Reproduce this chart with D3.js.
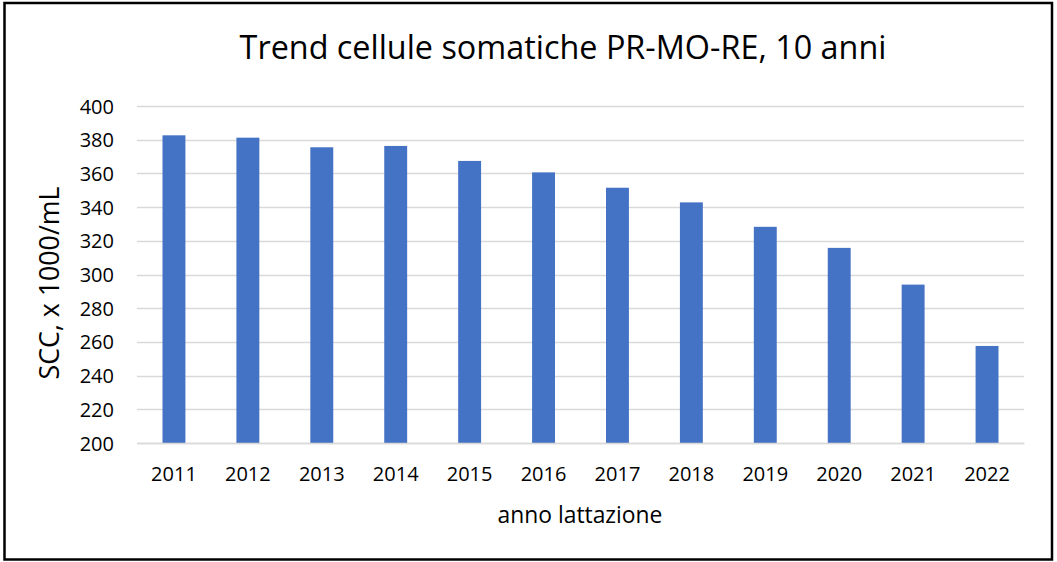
<!DOCTYPE html>
<html>
<head>
<meta charset="utf-8">
<script src="https://cdn.jsdelivr.net/npm/d3@7"></script>
<style>
  body { margin: 0; background: #fff; }
  text { font-family: "Open Sans", "Noto Sans", sans-serif; fill: #000; }
</style>
</head>
<body>
<div id="chart"></div>
<script>

var years = ["2011", "2012", "2013", "2014", "2015", "2016",
  "2017", "2018", "2019", "2020", "2021", "2022"];
var scc = [382.6, 381.2, 375.5, 376.3, 367.4, 360.6,
  351.5, 342.8, 328.3, 315.8, 294.0, 257.6];
var yTicks = [200, 220, 240, 260, 280, 300, 320, 340, 360, 380, 400];

var titleText = "Trend cellule somatiche PR-MO-RE, 10 anni";
var xTitle = "anno lattazione";
var yTitle = "SCC, x 1000/mL";

var width = 1057, height = 562;
var plotLeft = 137, plotRight = 1024, plotTop = 106, plotBottom = 443;

var svg = d3.select("#chart")
  .append("svg")
  .attr("width", width)
  .attr("height", height);

// outer frame
svg.append("rect")
  .attr("x", 4.5)
  .attr("y", 3)
  .attr("width", 1047.5)
  .attr("height", 556.5)
  .style("fill", "#fff")
  .style("stroke", "#000")
  .style("stroke-width", 2.5);

var x = d3.scaleBand()
  .domain(years)
  .range([plotLeft, plotRight])
  .paddingInner(0.69)
  .paddingOuter(0.345);

var y = d3.scaleLinear()
  .domain([200, 400])
  .range([plotBottom, plotTop]);

// shrink/grow the font so a text fills roughly the width of the original
function fitWidth(sel, target) {
  var node = sel.node();
  var size = parseFloat(sel.style("font-size"));
  var w = node.getComputedTextLength();
  sel.style("font-size", (size * target / w) + "px");
}

// gridlines
svg.append("g")
  .selectAll("line")
  .data(yTicks)
  .enter()
  .append("line")
  .attr("x1", plotLeft)
  .attr("x2", plotRight)
  .attr("y1", function (d) { return Math.round(y(d)) + 0.5; })
  .attr("y2", function (d) { return Math.round(y(d)) + 0.5; })
  .style("stroke", "#d9d9d9")
  .style("stroke-width", 1.3);

// bars
svg.append("g")
  .selectAll("rect")
  .data(years)
  .enter()
  .append("rect")
  .attr("x", function (d) { return x(d); })
  .attr("y", function (d, i) { return y(scc[i]); })
  .attr("width", x.bandwidth())
  .attr("height", function (d, i) { return y(200) - y(scc[i]); })
  .style("fill", "#4472c4");

// y axis
var yAxis = svg.append("g")
  .attr("transform", "translate(" + (plotLeft - 23) + ",0)")
  .call(d3.axisLeft(y).tickValues(yTicks).tickSize(0).tickPadding(0));
yAxis.select(".domain").remove();
yAxis.selectAll("text")
  .style("font-family", "'Open Sans', sans-serif")
  .style("font-size", "20px")
  .attr("dy", "0.35em");

// x axis
var xAxis = svg.append("g")
  .attr("transform", "translate(0," + plotBottom + ")")
  .call(d3.axisBottom(x).tickSize(0).tickPadding(0));
xAxis.select(".domain")
  .style("stroke", "#d9d9d9")
  .style("stroke-width", 1.3);
xAxis.selectAll("text")
  .style("font-family", "'Open Sans', sans-serif")
  .style("font-size", "20px")
  .attr("y", 38)
  .attr("dy", 0);

// titles
var t = svg.append("text")
  .attr("x", 563)
  .attr("y", 59)
  .style("text-anchor", "middle")
  .style("font-size", "32px")
  .text(titleText);
fitWidth(t, 647);

var xt = svg.append("text")
  .attr("x", 580)
  .attr("y", 523)
  .style("text-anchor", "middle")
  .style("font-size", "20px")
  .text(xTitle);
fitWidth(xt, 165);

var yt = svg.append("text")
  .attr("transform", "translate(59,283) rotate(-90)")
  .style("text-anchor", "middle")
  .style("font-size", "20px")
  .text(yTitle);
fitWidth(yt, 193);

</script>
</body>
</html>
